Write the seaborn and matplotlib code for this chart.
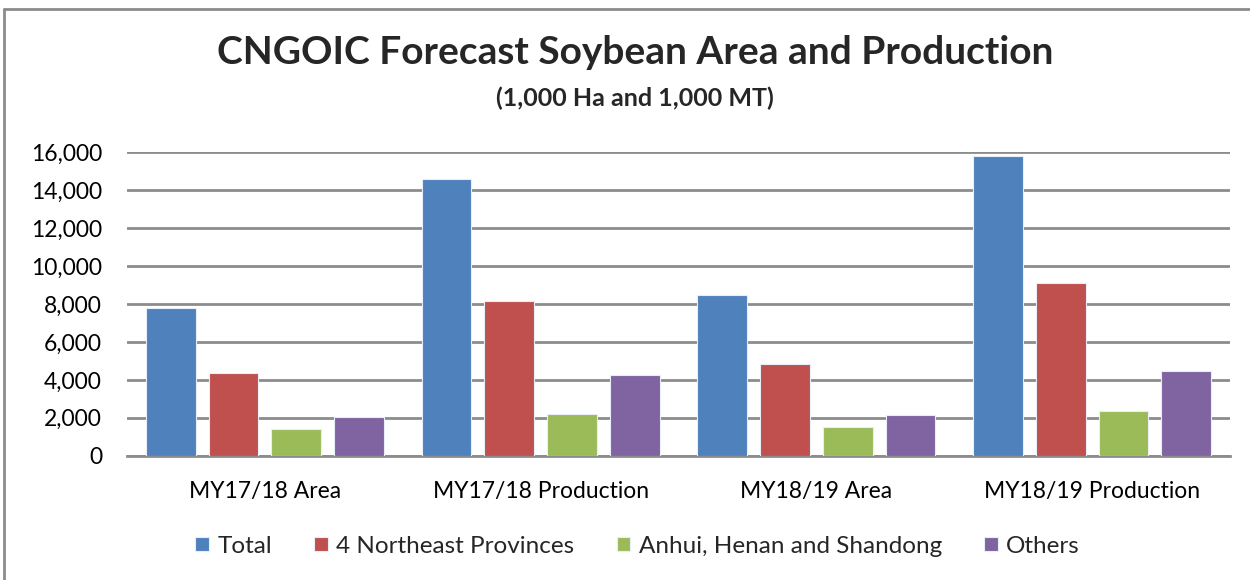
import pandas as pd
import numpy as np
import seaborn as sns
import matplotlib.pyplot as plt
from matplotlib.lines import Line2D
from matplotlib.ticker import FuncFormatter

# --- Data (1,000 Ha / 1,000 MT) ---
CATEGORIES = ['MY17/18 Area', 'MY17/18 Production', 'MY18/19 Area', 'MY18/19 Production']
SERIES = ['Total', '4 Northeast Provinces', 'Anhui, Henan and Shandong', 'Others']
TOTAL = [7800, 14580, 8490, 15810]
NORTHEAST = [4380, 8140, 4850, 9090]
AHS = [1390, 2215, 1500, 2340]
OTHERS = [2060, 4240, 2130, 4450]
COLORS = ['#4F81BD', '#C0504D', '#9BBB59', '#8064A2']

rows = []
for name, vals in zip(SERIES, [TOTAL, NORTHEAST, AHS, OTHERS]):
    for cat, v in zip(CATEGORIES, vals):
        rows.append({'category': cat, 'series': name, 'value': v})
df = pd.DataFrame(rows)

sns.set_style('white')
plt.rcParams['font.family'] = ['Lato', 'DejaVu Sans']

fig = plt.figure(figsize=(12.5, 5.8), dpi=100)
ax = fig.add_axes([0.1016, 0.2143, 0.8824, 0.5231])

sns.barplot(data=df, x='category', y='value', hue='series', order=CATEGORIES,
            hue_order=SERIES, palette=COLORS, width=0.91, gap=0.21,
            saturation=1, edgecolor='#e8eef7', linewidth=0.8, ax=ax, zorder=3)

ax.set_ylim(0, 16000)
ax.set_yticks(np.arange(0, 16001, 2000))
ax.yaxis.set_major_formatter(FuncFormatter(lambda v, p: f'{int(v):,}'))
ax.grid(axis='y', color='#8c8c8c', linewidth=2, zorder=0)
ax.set_axisbelow(True)
for s in ['top', 'right', 'left']:
    ax.spines[s].set_visible(False)
ax.spines['bottom'].set_color('#8c8c8c')
ax.spines['bottom'].set_linewidth(2)
ax.tick_params(axis='both', length=0, labelsize=16.5, colors='black')
ax.tick_params(axis='y', pad=18)
ax.tick_params(axis='x', pad=18)
ax.set_xlabel('')
ax.set_ylabel('')
ax.set_xlim(-0.5, 3.5)

handles, labels = ax.get_legend_handles_labels()
ax.legend(handles, labels, loc='center', bbox_to_anchor=(0.463, -0.298), ncol=4,
          frameon=False, fontsize=17.5, handlelength=0.55, handleheight=0.55,
          handletextpad=0.35, columnspacing=1.75)

fig.text(0.508, 0.909, 'CNGOIC Forecast Soybean Area and Production',
         ha='center', va='center', fontsize=28, fontweight='bold')
fig.text(0.508, 0.831, '(1,000 Ha and 1,000 MT)',
         ha='center', va='center', fontsize=18, fontweight='bold')

# chart frame
fig.add_artist(Line2D([0.003, 1.0], [0.984, 0.984], color='#8c8c8c', linewidth=2,
                      transform=fig.transFigure))
fig.add_artist(Line2D([0.003, 0.003], [0.0, 0.984], color='#8c8c8c', linewidth=2,
                      transform=fig.transFigure))

plt.savefig('out.png', dpi=100)
